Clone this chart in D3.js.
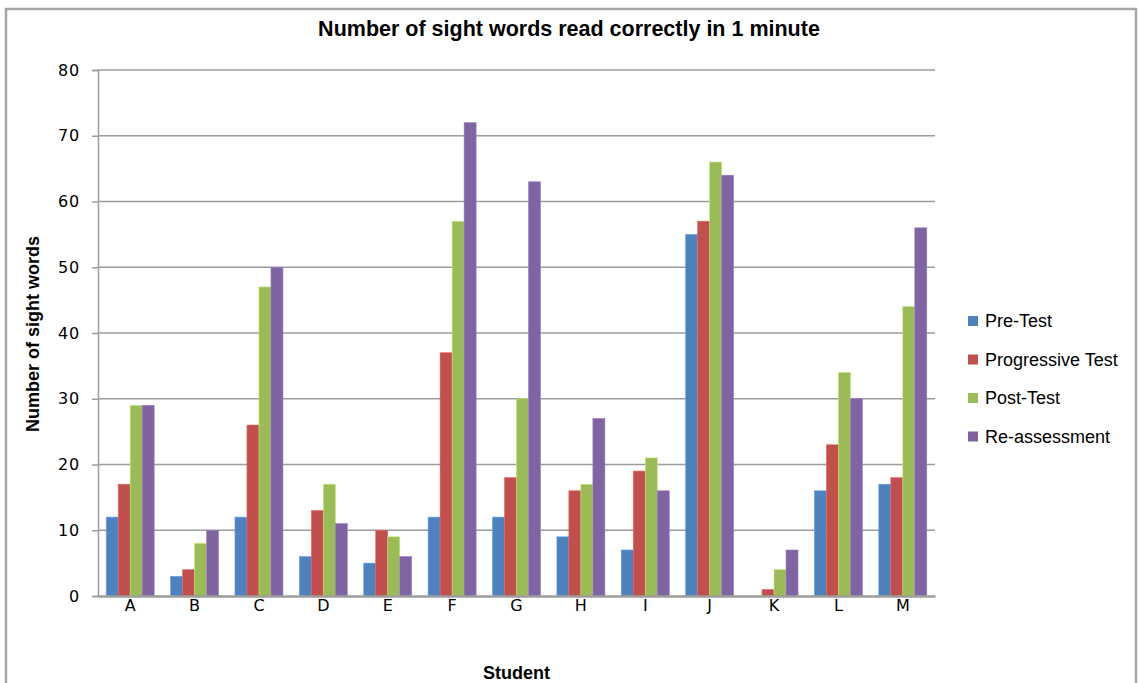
<!DOCTYPE html>
<html>
<head>
<meta charset="utf-8">
<script src="https://cdn.jsdelivr.net/npm/d3@7"></script>
<style>
html,body{margin:0;padding:0;background:#fff;}
svg{display:block;}
</style>
</head>
<body>
<svg id="chart" width="1139" height="683"></svg>
<script>
const categories = ["A","B","C","D","E","F","G","H","I","J","K","L","M"];
const seriesNames = ["Pre-Test","Progressive Test","Post-Test","Re-assessment"];
const preTest = [12,3,12,6,5,12,12,9,7,55,0,16,17];
const progressiveTest = [17,4,26,13,10,37,18,16,19,57,1,23,18];
const postTest = [29,8,47,17,9,57,30,17,21,66,4,34,44];
const reassessment = [29,10,50,11,6,72,63,27,16,64,7,30,56];
const colors = ["#4F81BD","#C0504D","#9BBB59","#8064A2"];
const yTicks = [0,10,20,30,40,50,60,70,80];

(function(){
const allSeries = [preTest, progressiveTest, postTest, reassessment];
const svg = d3.select("#chart");
const font = "'Liberation Sans', Arial, sans-serif";
const tickFont = "'DejaVu Sans', Verdana, sans-serif";

// frame
svg.append("path")
  .attr("d","M6,690 L6,9 L1136,9 L1136,690")
  .attr("fill","none").attr("stroke","#a6a6a6").attr("stroke-width",2.5);

const pL = 98, pR = 935, pT = 70, pB = 596;
const x = d3.scaleBand().domain(categories).range([pL,pR]).paddingInner(0).paddingOuter(0);
const y = d3.scaleLinear().domain([0,80]).range([pB,pT]);
const barW = 12;
const xs = d3.scaleBand().domain(d3.range(4)).range([0,barW*4]);

// gridlines
svg.append("g").selectAll("line").data(yTicks.filter(d=>d>0)).join("line")
  .attr("x1",pL).attr("x2",pR)
  .attr("y1",d=>y(d)).attr("y2",d=>y(d))
  .attr("stroke","#9c9c9c").attr("stroke-width",1.5);

// y axis
const yAxis = d3.axisLeft(y).tickValues(yTicks).tickSize(6).tickPadding(12).tickFormat(d3.format("d"));
const gy = svg.append("g").attr("transform",`translate(${pL},0)`).call(yAxis);
gy.select(".domain").attr("stroke","#9c9c9c").attr("stroke-width",1.5);
gy.selectAll(".tick line").attr("stroke","#9c9c9c").attr("stroke-width",1.5);
gy.selectAll("text").attr("font-family",tickFont).attr("font-size",16).attr("letter-spacing","0.8px").attr("fill","#000");

// bars
const g = svg.append("g");
allSeries.forEach((vals,si)=>{
  g.append("g").selectAll("rect").data(vals).join("rect")
    .attr("x",(d,i)=>x(categories[i]) + x.bandwidth()/2 - barW*2 + xs(si))
    .attr("width",barW)
    .attr("y",d=>y(d))
    .attr("height",d=>y(0)-y(d))
    .attr("fill",colors[si])
    .attr("stroke",d3.color(colors[si]).brighter(0.6))
    .attr("stroke-width",0.6);
});

// x axis baseline
const xAxis = d3.axisBottom(x).tickSize(0).tickPadding(4);
const gx = svg.append("g").attr("transform",`translate(0,${pB})`).call(xAxis);
gx.select(".domain").attr("stroke","#9c9c9c").attr("stroke-width",2.5);
gx.selectAll("text").attr("font-family",tickFont).attr("font-size",16).attr("fill","#000");

// title
svg.append("text").attr("x",569).attr("y",35.5).attr("text-anchor","middle")
  .attr("font-family",font).attr("font-weight","bold").attr("font-size",21.5)
  .text("Number of sight words read correctly in 1 minute");

// axis titles
svg.append("text").attr("x",(pL+pR)/2).attr("y",678.5).attr("text-anchor","middle")
  .attr("font-family",font).attr("font-weight","bold").attr("font-size",18)
  .text("Student");
svg.append("text").attr("transform","translate(38.5,334) rotate(-90)").attr("text-anchor","middle")
  .attr("font-family",font).attr("font-weight","bold").attr("font-size",18)
  .text("Number of sight words");

// legend
const lg = svg.append("g").attr("transform","translate(968,321)");
seriesNames.forEach((name,i)=>{
  const row = lg.append("g").attr("transform",`translate(0,${i*38.5})`);
  row.append("rect").attr("x",0).attr("y",-5).attr("width",10).attr("height",10).attr("fill",colors[i]);
  row.append("text").attr("x",17).attr("y",0).attr("dy","0.35em")
    .attr("font-family",font).attr("font-size",18).text(name);
});
})();
</script>
</body>
</html>
